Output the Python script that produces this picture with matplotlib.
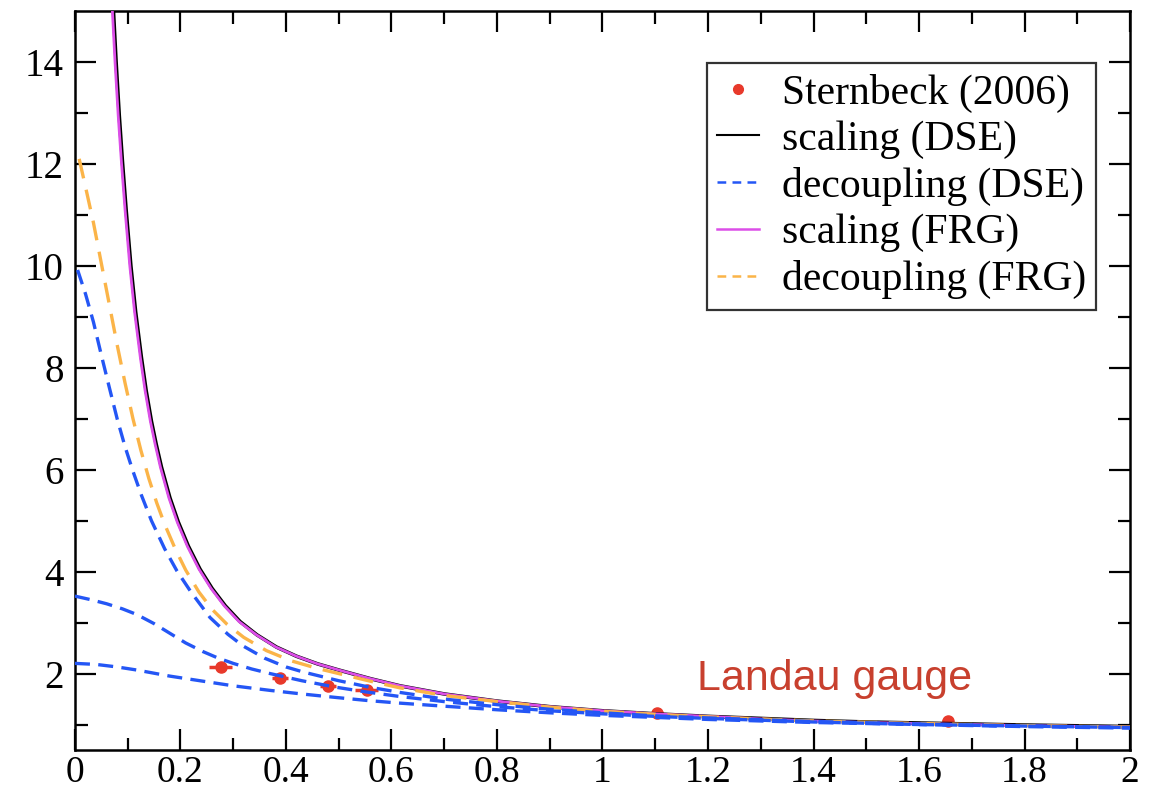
import numpy as np
import matplotlib
matplotlib.use("Agg")
import matplotlib.pyplot as plt
from matplotlib.lines import Line2D

# Lattice data (Sternbeck 2006)
lat_x = [0.276, 0.389, 0.479, 0.553, 1.104, 1.654]
lat_y = [2.12, 1.91, 1.76, 1.67, 1.23, 1.07]
lat_xerr = [0.022, 0.015, 0.015, 0.022, 0.01, 0.01]

# scaling (DSE)
sc_dse_x = [0.073, 0.078, 0.084, 0.09, 0.097, 0.106, 0.115, 0.126, 0.135, 0.145, 0.154, 0.164,
            0.18, 0.196, 0.215, 0.237, 0.26, 0.285, 0.313, 0.345, 0.382, 0.42, 0.46, 0.5,
            0.56, 0.616, 0.7, 0.8, 0.9, 1.0, 1.1, 1.2, 1.3, 1.4, 1.5, 1.6, 1.7, 1.8, 1.9, 2.0]
sc_dse_y = [15.0, 14.0, 12.95, 12.05, 11.1, 10.0, 9.1, 8.2, 7.55, 6.95, 6.5, 6.05,
            5.45, 4.97, 4.5, 4.05, 3.67, 3.33, 3.02, 2.76, 2.52, 2.34, 2.19, 2.07,
            1.9, 1.76, 1.6, 1.46, 1.35, 1.27, 1.21, 1.16, 1.12, 1.08, 1.05, 1.03, 1.01, 0.99, 0.975, 0.96]

# scaling (FRG)
sc_frg_x = [0.071, 0.076, 0.082, 0.088, 0.095, 0.104, 0.113, 0.124, 0.133, 0.143, 0.152, 0.162,
            0.178, 0.194, 0.213, 0.235, 0.258, 0.283, 0.311, 0.344, 0.381, 0.42, 0.46, 0.5,
            0.56, 0.616, 0.7, 0.8, 0.9, 1.0, 1.1, 1.2, 1.3, 1.4, 1.5, 1.6, 1.7, 1.8, 1.9, 2.0]
sc_frg_y = [15.0, 14.0, 12.95, 12.05, 11.1, 10.0, 9.1, 8.2, 7.55, 6.95, 6.5, 6.05,
            5.45, 4.97, 4.5, 4.05, 3.67, 3.33, 3.02, 2.76, 2.52, 2.34, 2.19, 2.07,
            1.9, 1.76, 1.6, 1.46, 1.35, 1.27, 1.21, 1.16, 1.11, 1.07, 1.04, 1.02, 1.0, 0.98, 0.965, 0.95]

# decoupling (FRG)
dec_frg_x = [0.008, 0.02, 0.035, 0.05, 0.065, 0.08, 0.095, 0.11, 0.125, 0.14, 0.155, 0.17,
             0.19, 0.21, 0.235, 0.26, 0.288, 0.32, 0.363, 0.41, 0.46, 0.5, 0.56, 0.616,
             0.7, 0.8, 0.9, 1.0, 1.1, 1.2, 1.4, 1.6, 1.8, 2.0]
dec_frg_y = [12.1, 11.55, 10.85, 10.05, 9.25, 8.45, 7.7, 7.0, 6.38, 5.83, 5.35, 4.93,
             4.45, 4.03, 3.6, 3.26, 2.97, 2.71, 2.45, 2.25, 2.1, 2.0, 1.85, 1.72,
             1.57, 1.45, 1.34, 1.26, 1.2, 1.15, 1.07, 1.02, 0.98, 0.95]

# decoupling (DSE), three solutions
dec1_x = [0.005, 0.02, 0.035, 0.05, 0.065, 0.08, 0.095, 0.11, 0.126, 0.145, 0.17, 0.193,
          0.22, 0.256, 0.29, 0.319, 0.36, 0.4, 0.433, 0.5, 0.56, 0.616, 0.7, 0.8, 0.9,
          1.0, 1.1, 1.2, 1.4, 1.6, 1.8, 2.0]
dec1_y = [9.92, 9.45, 8.9, 8.25, 7.62, 7.0, 6.45, 5.97, 5.5, 5.0, 4.45, 4.02,
          3.6, 3.1, 2.77, 2.54, 2.3, 2.13, 2.03, 1.86, 1.73, 1.63, 1.5, 1.39, 1.3,
          1.23, 1.17, 1.13, 1.06, 1.01, 0.97, 0.94]
dec2_x = [0.0, 0.03, 0.06, 0.09, 0.117, 0.15, 0.18, 0.21, 0.243, 0.27, 0.3, 0.335, 0.37,
          0.43, 0.496, 0.552, 0.616, 0.7, 0.8, 0.9, 1.0, 1.1, 1.2, 1.4, 1.6, 1.8, 2.0]
dec2_y = [3.52, 3.45, 3.37, 3.27, 3.16, 2.98, 2.79, 2.6, 2.43, 2.31, 2.2, 2.09, 2.0,
          1.86, 1.73, 1.64, 1.55, 1.45, 1.35, 1.27, 1.21, 1.16, 1.12, 1.05, 1.0, 0.97, 0.94]
dec3_x = [0.0, 0.04, 0.08, 0.117, 0.18, 0.243, 0.3, 0.37, 0.43, 0.496, 0.556, 0.616, 0.7,
          0.8, 0.9, 1.0, 1.1, 1.2, 1.4, 1.6, 1.8, 2.0]
dec3_y = [2.2, 2.18, 2.13, 2.07, 1.95, 1.85, 1.76, 1.67, 1.6, 1.53, 1.47, 1.42, 1.36,
          1.29, 1.23, 1.18, 1.14, 1.1, 1.04, 1.0, 0.96, 0.93]

RED = "#e8392b"
BLUE = "#2456f5"
ORANGE = "#fbb448"
MAGENTA = "#dc4ee8"

plt.rcParams['font.family'] = ['Liberation Serif', 'DejaVu Serif']

fig = plt.figure(figsize=(11.62, 7.89), dpi=100)
ax = fig.add_axes([0.0645, 0.0494, 0.908, 0.9366])

ax.errorbar(lat_x, lat_y, xerr=lat_xerr, fmt='o', color=RED, ms=8, elinewidth=2.5,
            capsize=0, zorder=2)

ax.plot(sc_dse_x, sc_dse_y, color='black', lw=2.6, zorder=3)
ax.plot(sc_frg_x, sc_frg_y, color=MAGENTA, lw=2.0, zorder=4)
ax.plot(dec_frg_x, dec_frg_y, color=ORANGE, lw=2.4, dashes=(6, 3.5), zorder=4)
for dx, dy in [(dec1_x, dec1_y), (dec2_x, dec2_y), (dec3_x, dec3_y)]:
    ax.plot(dx, dy, color=BLUE, lw=2.4, dashes=(4.5, 2.5), zorder=5)

ax.text(1.44, 1.9, "Landau gauge", color="#c8402e", fontsize=31,
        family=['Liberation Sans', 'DejaVu Sans'], ha='center', va='center')

ax.set_xlim(0, 2)
ax.set_ylim(0.5, 15)
ax.set_xticks(np.arange(0, 2.01, 0.2))
ax.set_xticklabels(['0', '0.2', '0.4', '0.6', '0.8', '1', '1.2', '1.4', '1.6', '1.8', '2'])
ax.set_xticks(np.arange(0.1, 2.0, 0.2), minor=True)
ax.set_yticks([2, 4, 6, 8, 10, 12, 14])
ax.set_yticks([1, 3, 5, 7, 9, 11, 13], minor=True)
ax.tick_params(which='both', direction='in', top=True, right=True, width=1.6)
ax.tick_params(axis='y', pad=8, labelsize=28)
ax.tick_params(axis='x', pad=4, labelsize=27)
ax.tick_params(which='major', length=15)
ax.tick_params(which='minor', length=9)
for sp in ax.spines.values():
    sp.set_linewidth(1.8)

handles = [
    Line2D([], [], ls='none', marker='o', color=RED, ms=7),
    Line2D([], [], color='black', lw=1.5),
    Line2D([], [], color=BLUE, lw=1.8, dashes=(3.5, 2.5)),
    Line2D([], [], color=MAGENTA, lw=1.8),
    Line2D([], [], color=ORANGE, lw=1.8, dashes=(3.5, 2.5)),
]
labels = ['Sternbeck (2006)', 'scaling (DSE)', 'decoupling (DSE)', 'scaling (FRG)',
          'decoupling (FRG)']
leg = ax.legend(handles, labels, loc='upper right', bbox_to_anchor=(0.968, 0.9296),
                fontsize=30, frameon=True, fancybox=False, handlelength=1.0,
                handletextpad=0.55, labelspacing=0.19, borderpad=0.25, borderaxespad=0)
leg.get_frame().set_edgecolor('black')
leg.get_frame().set_linewidth(1.6)

fig.savefig("out.png", dpi=100)
